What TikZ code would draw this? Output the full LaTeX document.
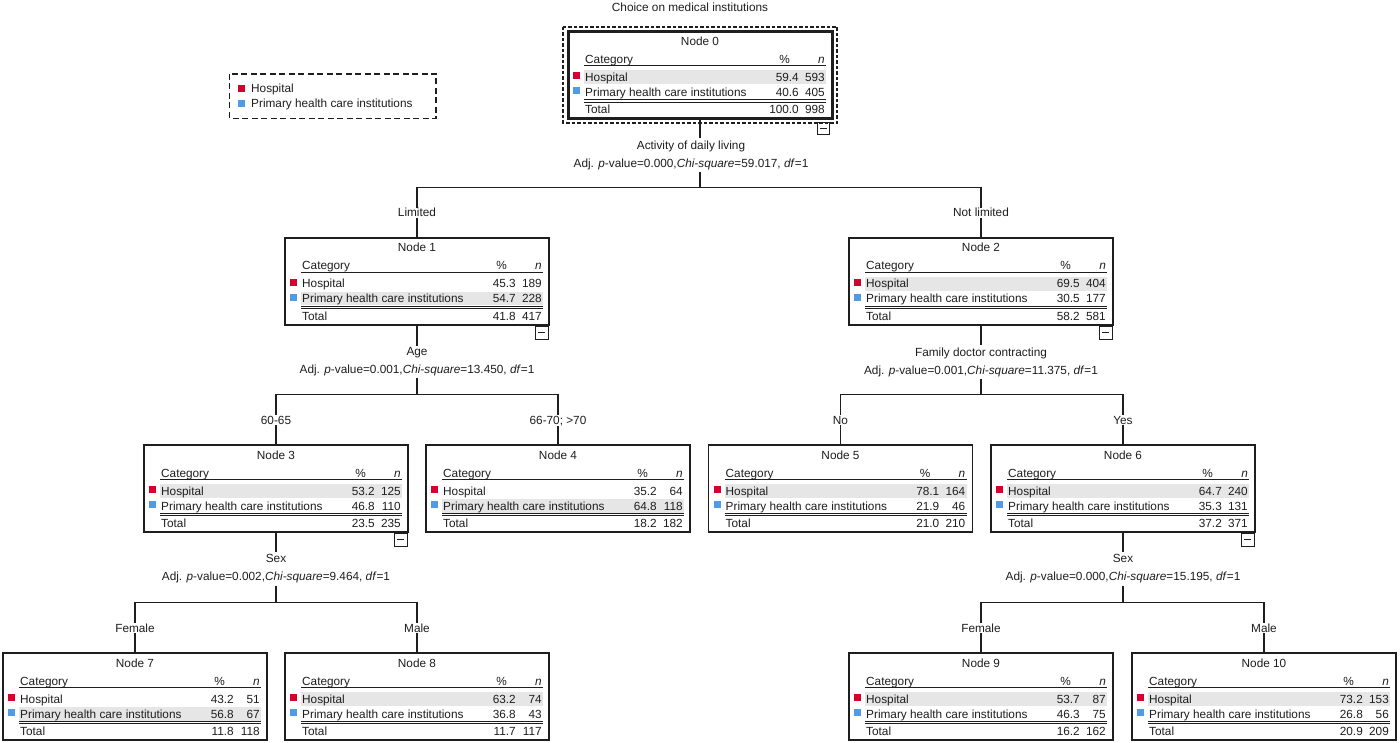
\documentclass[tikz,border=0pt]{standalone}
\usepackage{fontspec}
\setmainfont{Liberation Sans}
\usetikzlibrary{calc}
\definecolor{hospred}{HTML}{D6002F}
\definecolor{phcblue}{HTML}{4F9BE6}
\definecolor{bandgray}{HTML}{E6E6E6}
\definecolor{ink}{HTML}{1E1E1E}
\tikzset{
  treebox/.style={draw=ink, line width=1.3pt, minimum width=264pt, minimum height=87pt,
    inner sep=0pt, outer sep=0pt, anchor=north},
  txt/.style={inner sep=0pt, font=\fontsize{11.8}{14}\selectfont, text=ink},
  branchlbl/.style={txt, fill=white, inner xsep=0.5pt, inner ysep=0.5pt},
  splitlbl/.style={inner sep=2pt, align=center, font=\fontsize{11.8}{18}\selectfont, text=ink},
  conn/.style={draw=ink, line width=1.3pt},
  rule/.style={draw=ink, line width=1pt},
  minusbox/.style={draw=ink, line width=1pt}
}
\newcommand\bandrow{1}
\newcommand\treenode[9]{%
  \node[treebox] (N#1) at (#2,#3) {};
  \begin{scope}[shift={(N#1.north west)}]
    \ifnum\bandrow=1
      \fill[bandgray] (16,39) rectangle (258,53);
    \else
      \fill[bandgray] (16,54) rectangle (258,67.5);
    \fi
    \node[txt,anchor=base] at (132,14) {Node #1};
    \node[txt,anchor=base west] at (17,32) {Category};
    \node[txt,anchor=base east] at (222,32) {\%};
    \node[txt,anchor=base east] at (257,32) {\textit{n}};
    \draw[rule] (16,34.5) -- (258,34.5);
    \fill[hospred] (5,41) rectangle (12,48);
    \fill[phcblue] (5,56) rectangle (12,63);
    \node[txt,anchor=base west] at (17,50) {Hospital};
    \node[txt,anchor=base east] at (231,50) {#4};
    \node[txt,anchor=base east] at (257,50) {#5};
    \node[txt,anchor=base west] at (17,65) {Primary health care institutions};
    \node[txt,anchor=base east] at (231,65) {#6};
    \node[txt,anchor=base east] at (257,65) {#7};
    \draw[rule,line width=0.9pt] (16,68.2) -- (258,68.2);
    \draw[rule,line width=0.9pt] (16,70.6) -- (258,70.6);
    \node[txt,anchor=base west] at (17,82) {Total};
    \node[txt,anchor=base east] at (231,82) {#8};
    \node[txt,anchor=base east] at (257,82) {#9};
  \end{scope}}
\newcommand\minusmark[1]{%
  \draw[minusbox] ($(#1.south east)+(-14,1)$) rectangle ++(13,13);
  \draw[minusbox] ($(#1.south east)+(-11,7.5)$) -- ++(7,0);}
\begin{document}
\begin{tikzpicture}[x=1pt,y=-1pt]
\fill[white] (0,0) rectangle (1400,743);
\useasboundingbox (0,0) rectangle (1400,743);

% title
\node[txt,anchor=base] (title) at (690,12) {Choice on medical institutions};

% legend
\draw[draw=ink, line width=1.2pt, dash pattern=on 6pt off 3.5pt] (229.5,74) rectangle (436,118.5);
\fill[hospred] (238,85.5) rectangle (245,92.5);
\fill[phcblue] (238,100.5) rectangle (245,107.5);
\node[txt,anchor=base west] (legH) at (251,93) {Hospital};
\node[txt,anchor=base west] (legP) at (251,108) {Primary health care institutions};

% nodes
\renewcommand\bandrow{1}
\treenode{0}{700}{31.5}{59.4}{593}{40.6}{405}{100.0}{998}
\draw[draw=ink, line width=3pt] (N0.north west) rectangle (N0.south east);
\draw[draw=ink, line width=1.2pt, dash pattern=on 3.5pt off 2pt] (563,27) rectangle (837,123);
\draw[minusbox] ($(N0.south east)+(-15,4.5)$) rectangle ++(12,11.5);
\draw[minusbox] ($(N0.south east)+(-12.5,10.2)$) -- ++(7,0);

\renewcommand\bandrow{2}
\treenode{1}{417}{238}{45.3}{189}{54.7}{228}{41.8}{417}
\renewcommand\bandrow{1}
\treenode{2}{981}{238}{69.5}{404}{30.5}{177}{58.2}{581}
\treenode{3}{276}{445}{53.2}{125}{46.8}{110}{23.5}{235}
\renewcommand\bandrow{2}
\treenode{4}{558}{445}{35.2}{64}{64.8}{118}{18.2}{182}
\renewcommand\bandrow{1}
\treenode{5}{840.5}{445}{78.1}{164}{21.9}{46}{21.0}{210}
\treenode{6}{1123}{445}{64.7}{240}{35.3}{131}{37.2}{371}
\renewcommand\bandrow{2}
\treenode{7}{135}{653}{43.2}{51}{56.8}{67}{11.8}{118}
\renewcommand\bandrow{1}
\treenode{8}{417}{653}{63.2}{74}{36.8}{43}{11.7}{117}
\treenode{9}{981}{653}{53.7}{87}{46.3}{75}{16.2}{162}
\treenode{10}{1264}{653}{73.2}{153}{26.8}{56}{20.9}{209}

\minusmark{N1}
\minusmark{N2}
\minusmark{N3}
\minusmark{N6}

% split labels
\node[splitlbl] (S0) at (691,155) {Activity of daily living\\Adj. \textit{p}-value=0.000,\textit{Chi-square}=59.017, \textit{df}=1};
\node[splitlbl] (S1) at (417,362) {Age\\Adj. \textit{p}-value=0.001,\textit{Chi-square}=13.450, \textit{df}=1};
\node[splitlbl] (S2) at (981,362) {Family doctor contracting\\Adj. \textit{p}-value=0.001,\textit{Chi-square}=11.375, \textit{df}=1};
\node[splitlbl] (S3) at (276,569) {Sex\\Adj. \textit{p}-value=0.002,\textit{Chi-square}=9.464, \textit{df}=1};
\node[splitlbl] (S6) at (1123,569) {Sex\\Adj. \textit{p}-value=0.000,\textit{Chi-square}=15.195, \textit{df}=1};

% branch coordinates
\coordinate (B0) at (700,187.5);
\coordinate (B1) at (417,394.5);
\coordinate (B2) at (981,394.5);
\coordinate (B3) at (276,602.5);
\coordinate (B6) at (1123,602.5);

% connectors
\draw[conn] (N0.south) -- (N0.south |- S0.north);
\draw[conn] (N0.south |- S0.south) -- (B0);
\draw[conn] (N1.north) |- (B0) -| (N2.north);

\draw[conn] (N1.south) -- (N1.south |- S1.north);
\draw[conn] (N1.south |- S1.south) -- (B1);
\draw[conn] (N3.north) |- (B1) -| (N4.north);

\draw[conn] (N2.south) -- (N2.south |- S2.north);
\draw[conn] (N2.south |- S2.south) -- (B2);
\draw[conn] (N5.north) |- (B2) -| (N6.north);

\draw[conn] (N3.south) -- (N3.south |- S3.north);
\draw[conn] (N3.south |- S3.south) -- (B3);
\draw[conn] (N7.north) |- (B3) -| (N8.north);

\draw[conn] (N6.south) -- (N6.south |- S6.north);
\draw[conn] (N6.south |- S6.south) -- (B6);
\draw[conn] (N9.north) |- (B6) -| (N10.north);

% branch labels
\node[branchlbl,anchor=base] (L1) at (417,217) {Limited};
\node[branchlbl,anchor=base] (L2) at (981,217) {Not limited};
\node[branchlbl,anchor=base] (L3) at (276,424) {60-65};
\node[branchlbl,anchor=base] (L4) at (558,424) {66-70; >70};
\node[branchlbl,anchor=base] (L5) at (840.5,424) {No};
\node[branchlbl,anchor=base] (L6) at (1123,424) {Yes};
\node[branchlbl,anchor=base] (L7) at (135,632) {Female};
\node[branchlbl,anchor=base] (L8) at (417,632) {Male};
\node[branchlbl,anchor=base] (L9) at (981,632) {Female};
\node[branchlbl,anchor=base] (L10) at (1264,632) {Male};
\end{tikzpicture}
\end{document}
